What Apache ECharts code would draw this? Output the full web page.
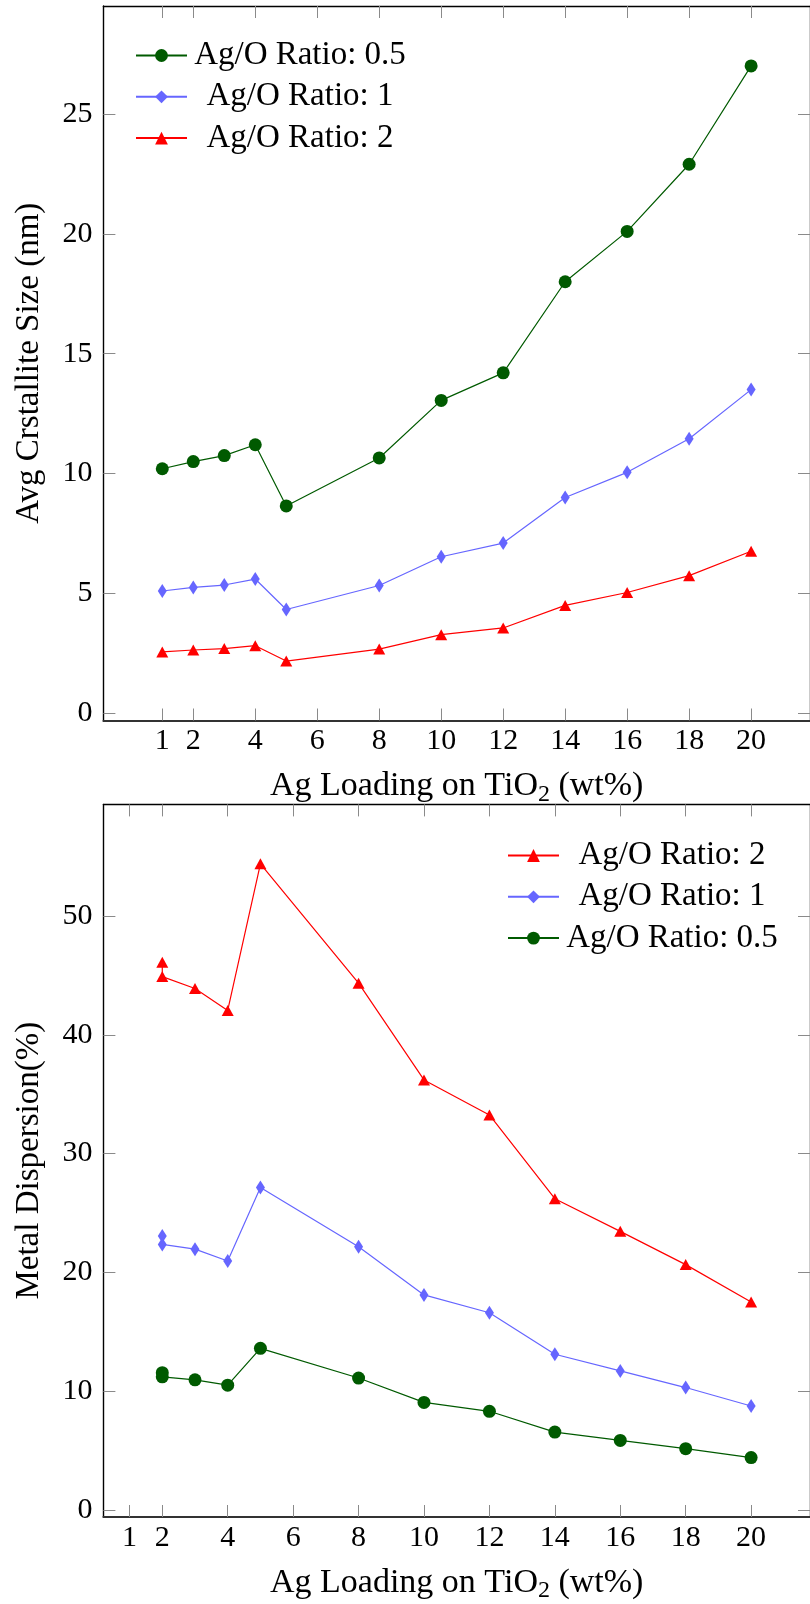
<!DOCTYPE html>
<html>
<head>
<meta charset="utf-8">
<script src="https://cdn.jsdelivr.net/npm/echarts@6/dist/echarts.min.js"></script>
<style>
html,body{margin:0;padding:0;background:#fff;}
#chart{width:810px;height:1604px;}
</style>
</head>
<body>
<div id="chart"></div>
<script>
// ---- data ----
const seriesNames = ['Ag/O Ratio: 0.5', 'Ag/O Ratio: 1', 'Ag/O Ratio: 2'];

// Top chart: average crystallite size (nm)
const xTop = [1, 2, 3, 4, 5, 8, 10, 12, 14, 16, 18, 20];
const crystRatio05 = [10.2, 10.5, 10.75, 11.2, 8.65, 10.65, 13.05, 14.2, 18.0, 20.1, 22.9, 27.0];
const crystRatio1 = [5.1, 5.25, 5.35, 5.6, 4.33, 5.33, 6.53, 7.1, 9.0, 10.05, 11.45, 13.5];
const crystRatio2 = [2.56, 2.64, 2.7, 2.82, 2.18, 2.68, 3.28, 3.56, 4.5, 5.04, 5.74, 6.76];

// Bottom chart: metal dispersion (%)
const xBottom = [2, 2, 3, 4, 5, 8, 10, 12, 14, 16, 18, 20];
const dispRatio2 = [46.1, 44.9, 43.9, 42.05, 54.4, 44.35, 36.2, 33.25, 26.2, 23.45, 20.65, 17.5];
const dispRatio1 = [23.05, 22.35, 21.95, 20.95, 27.15, 22.15, 18.1, 16.6, 13.1, 11.7, 10.3, 8.75];
const dispRatio05 = [11.55, 11.2, 10.95, 10.5, 13.6, 11.1, 9.05, 8.3, 6.55, 5.85, 5.15, 4.4];

// tick labels
const xTicks = [1, 2, 4, 6, 8, 10, 12, 14, 16, 18, 20];
const yTicksTop = [0, 5, 10, 15, 20, 25];
const yTicksBottom = [0, 10, 20, 30, 40, 50];

const xTitle = 'Ag Loading on TiO{s|2} (wt%)';
const yTitleTop = 'Avg Crstallite Size (nm)';
const yTitleBottom = 'Metal Dispersion(%)';

// ---- styles ----
const FONT = 'Liberation Serif';
const FS_TICK = 30;
const FS_TEXT = 33;
const C_GREEN = '#005a00';
const C_BLUE = '#6666ff';
const C_RED = '#ff0000';
const TICK = { show: true, inside: true, length: 12, lineStyle: { color: '#8a8a8a', width: 1 } };
const LINE = { show: true, onZero: false, lineStyle: { color: '#000', width: 1.4 } };

function pairs(xs, ys) { return xs.map((x, i) => [x, ys[i]]); }

function xAxes(grid, min, max) {
  return [
    {
      type: 'value', gridIndex: grid, position: 'bottom', min: min, max: max,
      axisLine: { show: true, onZero: false, lineStyle: { color: '#333', width: 2 } },
      axisTick: Object.assign({}, TICK, { customValues: xTicks }),
      axisLabel: { customValues: xTicks, margin: 6, color: '#000', fontFamily: FONT, fontSize: FS_TICK },
      splitLine: { show: false },
      name: xTitle, nameLocation: 'middle', nameGap: 46, nameMoveOverlap: false,
      nameTextStyle: {
        color: '#000', fontFamily: FONT, fontSize: 34, lineHeight: 40,
        rich: { s: { fontFamily: FONT, fontSize: 24, verticalAlign: 'bottom', lineHeight: 40, color: '#000' } }
      }
    },
    {
      type: 'value', gridIndex: grid, position: 'top', min: min, max: max,
      axisLine: LINE,
      axisTick: Object.assign({}, TICK, { customValues: xTicks }),
      axisLabel: { show: false },
      splitLine: { show: false }
    }
  ];
}

function yAxes(grid, min, max, ticks, title) {
  return [
    {
      type: 'value', gridIndex: grid, position: 'left', min: min, max: max,
      axisLine: LINE,
      axisTick: Object.assign({}, TICK, { customValues: ticks }),
      axisLabel: { customValues: ticks, margin: 11, color: '#000', fontFamily: FONT, fontSize: FS_TICK },
      splitLine: { show: false },
      name: title, nameLocation: 'middle', nameGap: 58, nameMoveOverlap: false,
      nameTextStyle: { color: '#000', fontFamily: FONT, fontSize: FS_TEXT }
    },
    {
      type: 'value', gridIndex: grid, position: 'right', min: min, max: max,
      axisLine: LINE,
      axisTick: Object.assign({}, TICK, { customValues: ticks }),
      axisLabel: { show: false },
      splitLine: { show: false }
    }
  ];
}

function lineSeries(name, data, color, symbol, size, xi, yi) {
  return {
    type: 'line', name: name, data: data, xAxisIndex: xi, yAxisIndex: yi,
    symbol: symbol, symbolSize: size, showSymbol: true,
    lineStyle: { color: color, width: 1.2 },
    itemStyle: { color: color },
    emphasis: { disabled: true },
    z: 3
  };
}

function legend(left, top, data) {
  return {
    orient: 'vertical', left: left, top: top, padding: 0,
    itemWidth: 51, itemHeight: 16, itemGap: 8.3,
    selectedMode: false,
    data: data,
    formatter: n => '{c|' + n + '}',
    textStyle: {
      color: '#000', fontFamily: FONT, fontSize: FS_TEXT,
      rich: { c: { width: 216, align: 'center', fontFamily: FONT, fontSize: FS_TEXT, height: 30, lineHeight: 30, color: '#000' } }
    }
  };
}

const chart = echarts.init(document.getElementById('chart'), null, { renderer: 'canvas' });
chart.setOption({
  animation: false,
  backgroundColor: '#fff',
  textStyle: { fontFamily: FONT },
  grid: [
    { left: 103.4, top: 6, width: 714.9, height: 714.5 },
    { left: 103.4, top: 804.4, width: 714.9, height: 715.9 }
  ],
  xAxis: [].concat(xAxes(0, -0.9, 21.9), xAxes(1, 0.2, 21.8)),
  yAxis: [].concat(yAxes(0, -0.3, 29.5, yTicksTop, yTitleTop), yAxes(1, -0.6, 59.4, yTicksBottom, yTitleBottom)),
  legend: [
    legend(135, 39, [seriesNames[0], seriesNames[1], seriesNames[2]]),
    legend(507, 839, [seriesNames[2], seriesNames[1], seriesNames[0]])
  ],
  series: [
    lineSeries(seriesNames[0], pairs(xTop, crystRatio05), C_GREEN, 'circle', 13, 0, 0),
    lineSeries(seriesNames[1], pairs(xTop, crystRatio1), C_BLUE, 'diamond', [9, 14], 0, 0),
    lineSeries(seriesNames[2], pairs(xTop, crystRatio2), C_RED, 'triangle', [12, 11], 0, 0),
    lineSeries(seriesNames[2], pairs(xBottom, dispRatio2), C_RED, 'triangle', [12, 11], 2, 2),
    lineSeries(seriesNames[1], pairs(xBottom, dispRatio1), C_BLUE, 'diamond', [9, 14], 2, 2),
    lineSeries(seriesNames[0], pairs(xBottom, dispRatio05), C_GREEN, 'circle', 13, 2, 2)
  ]
});
</script>
</body>
</html>
